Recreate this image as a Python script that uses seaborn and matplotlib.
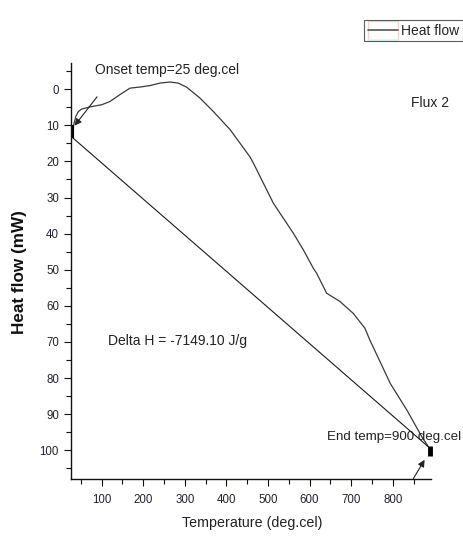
import matplotlib
matplotlib.use("Agg")
import matplotlib.pyplot as plt
import seaborn as sns
import pandas as pd
from matplotlib.lines import Line2D
from matplotlib.patches import Rectangle
from matplotlib.ticker import MultipleLocator

sns.set_theme(style="ticks")
plt.rcParams['font.family'] = ['Liberation Sans', 'DejaVu Sans']

# Data
temp = [27, 32, 38, 44, 52, 72, 100, 120, 144, 168, 192, 216, 240, 264, 284, 304,
        336, 368, 409, 457, 465, 513, 561, 585, 609, 617, 641, 673, 705, 733, 745,
        794, 834, 870, 886]
heat = [10.5, 10.3, 7.5, 6.2, 5.5, 4.9, 4.3, 3.4, 1.5, -0.3, -0.6, -1.0, -1.7, -2.0,
        -1.7, -0.6, 2.4, 6.1, 11.2, 18.8, 20.5, 31.6, 39.9, 44.5, 49.6, 51.0, 56.5,
        58.8, 62.1, 66.2, 69.5, 81.5, 88.9, 96.3, 99.1]
base_T = [27, 885]
base_H = [13.1, 99.0]
onset_T = [28, 28]
onset_H = [9.8, 13.4]
end_T = [889, 889]
end_H = [98.9, 101.6]
x_ticks = [100, 200, 300, 400, 500, 600, 700, 800]
y_ticks = [0, 10, 20, 30, 40, 50, 60, 70, 80, 90, 100]

df = pd.DataFrame({"Temperature": temp, "Heat flow": heat})
bdf = pd.DataFrame({"Temperature": base_T, "Heat flow": base_H})

fig = plt.figure(figsize=(4.63, 5.42), dpi=100)
ax = fig.add_axes([0.153, 0.116, 0.778, 0.768])

sns.lineplot(data=df, x="Temperature", y="Heat flow", ax=ax, color="#3a3a3a", lw=0.9,
             sort=False, estimator=None)
sns.lineplot(data=bdf, x="Temperature", y="Heat flow", ax=ax, color="#1a1a1a", lw=0.8,
             sort=False, estimator=None)
ax.plot(onset_T, onset_H, color="black", lw=3, solid_capstyle="butt")
ax.plot(end_T, end_H, color="black", lw=3.5, solid_capstyle="butt", clip_on=False)

ax.set_xlim(26, 892)
ax.set_ylim(108, -7.3)
ax.set_xticks(x_ticks)
ax.set_yticks(y_ticks)
ax.xaxis.set_minor_locator(MultipleLocator(50))
ax.yaxis.set_minor_locator(MultipleLocator(5))
ax.tick_params(axis="both", which="major", length=5, width=0.8, labelsize=8.3,
               colors="#111111", labelcolor="#222233")
ax.tick_params(axis="x", which="major", pad=6)
ax.tick_params(axis="both", which="minor", length=3.5, width=0.8, colors="#111111")
for s in ["top", "right"]:
    ax.spines[s].set_visible(False)
for s in ["left", "bottom"]:
    ax.spines[s].set_linewidth(1.0)
    ax.spines[s].set_color("#111111")

ax.set_xlabel("Temperature (deg.cel)", fontsize=10.3, color="#222222")
ax.xaxis.set_label_coords(0.503, -0.088)
ax.set_ylabel("Heat flow (mW)", fontsize=12.3, fontweight="bold", color="#111111")
ax.yaxis.set_label_coords(-0.142, 0.498)
ax.yaxis.label.set_va("center")

tc = "#222222"
ax.text(84, -5.4, "Onset temp=25 deg.cel", fontsize=10, color=tc, va="center", ha="left")
ax.text(890, 3.7, "Flux 2", fontsize=10, color=tc, va="center", ha="center", clip_on=False)
ax.text(115, 69.8, "Delta H = -7149.10 J/g", fontsize=10, color=tc, va="center", ha="left")
ax.text(642, 96.4, "End temp=900 deg.cel", fontsize=9.6, color=tc, va="center", ha="left",
        clip_on=False)

ax.annotate("", xy=(31, 10.7), xytext=(93, 1.5),
            arrowprops=dict(arrowstyle="-|>", color="#222222", lw=0.8, mutation_scale=10))
ax.annotate("", xy=(880, 102.0), xytext=(846, 108.5), annotation_clip=False,
            arrowprops=dict(arrowstyle="-|>", color="#222222", lw=0.8, mutation_scale=10))

handle = Line2D([0], [0], color="#555555", lw=1.2)
leg = fig.legend([handle], ["Heat flow"], loc="upper right", bbox_to_anchor=(0.999, 0.963),
                 fontsize=10, frameon=True, fancybox=False, borderpad=0.25,
                 handlelength=2.16, handletextpad=0.22, borderaxespad=0)
leg.get_frame().set_edgecolor("#333333")
leg.get_frame().set_linewidth(0.8)

# decorative legend sample frame (red box and cyan underline as in the reference)
fig.canvas.draw()
hb = leg.legend_handles[0].get_window_extent(fig.canvas.get_renderer())
fb = leg.get_frame().get_window_extent(fig.canvas.get_renderer())
inv = fig.transFigure.inverted()
(x0, y0), (x1, y1) = inv.transform([(hb.x0, fb.y0 + 1), (hb.x1, fb.y1 - 1)])
fig.add_artist(Rectangle((x0, y0), x1 - x0, y1 - y0, transform=fig.transFigure,
                         fill=False, edgecolor="#e02020", lw=1.0))
fig.add_artist(Line2D([x0, x1], [y0, y0], transform=fig.transFigure,
                      color="#40e0f0", lw=1.2))

fig.savefig("out.png", dpi=100)
